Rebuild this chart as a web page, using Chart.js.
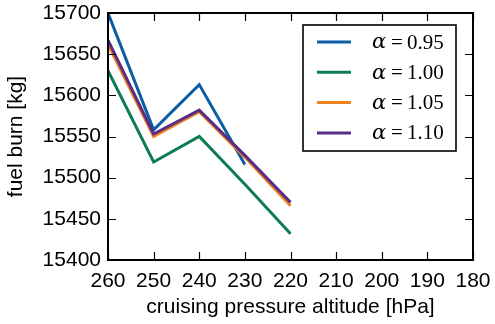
<!DOCTYPE html>
<html>
<head>
<meta charset="utf-8">
<script src="https://cdn.jsdelivr.net/npm/chart.js@4/dist/chart.umd.min.js"></script>
<style>
  html, body { margin: 0; padding: 0; background: #fff; }
  #wrap { width: 495px; height: 324px; }
</style>
</head>
<body>
<div id="wrap"><canvas id="c"></canvas></div>
<script>
/* fuel burn vs cruising pressure altitude */

const altitude = [260, 250, 240, 230, 220];
const alphaLabels = ['0.95', '1.00', '1.05', '1.10'];
const burn095 = [15700, 15558, 15613, 15516];
const burn100 = [15630, 15519, 15550, 15492, 15432];
const burn105 = [15662, 15550, 15580, 15525, 15466];
const burn110 = [15667, 15553, 15582, 15527, 15470];
const xTicks = [260, 250, 240, 230, 220, 210, 200, 190, 180];
const yTicks = [15400, 15450, 15500, 15550, 15600, 15650, 15700];

const COL = ['#0b5ea6', '#0b7d50', '#f0821f', '#592d86'];
const series = [burn095, burn100, burn105, burn110];

const TICK_FONT = { family: "'Liberation Sans', Arial, sans-serif", size: 21 };
const TITLE_FONT = { family: "'Liberation Sans', Arial, sans-serif", size: 21 };

const pts = vals => vals.map((v, i) => ({ x: altitude[i], y: v }));

// inward ticks on all four sides, black frame, latex-ish legend box
const frame = {
  id: 'frame',
  afterDatasetsDraw(chart) {
    const { ctx, chartArea: a, scales: { x, y } } = chart;
    ctx.save();
    ctx.strokeStyle = '#000';
    ctx.lineWidth = 1.2;
    ctx.beginPath();
    xTicks.forEach(t => {
      const px = Math.round(x.getPixelForValue(t)) + 0.5;
      ctx.moveTo(px, a.bottom); ctx.lineTo(px, a.bottom - 8);
      ctx.moveTo(px, a.top); ctx.lineTo(px, a.top + 8);
    });
    yTicks.forEach(t => {
      const py = Math.round(y.getPixelForValue(t)) + 0.5;
      ctx.moveTo(a.left, py); ctx.lineTo(a.left + 8, py);
      ctx.moveTo(a.right, py); ctx.lineTo(a.right - 8, py);
    });
    ctx.stroke();
    ctx.lineWidth = 2;
    ctx.strokeRect(a.left, a.top, a.right - a.left, a.bottom - a.top);

    // legend
    const bx = 303, by = 25, bw = 153, bh = 126;
    ctx.fillStyle = '#fff';
    ctx.fillRect(bx, by, bw, bh);
    ctx.lineWidth = 1.6;
    ctx.strokeRect(bx, by, bw, bh);
    chart.data.datasets.forEach((ds, i) => {
      const ry = 42 + i * 30.3;
      ctx.strokeStyle = ds.borderColor;
      ctx.lineWidth = 3;
      ctx.beginPath(); ctx.moveTo(317, ry); ctx.lineTo(351, ry); ctx.stroke();
      ctx.fillStyle = '#000';
      ctx.textBaseline = 'middle';
      ctx.font = "italic 21px 'DejaVu Serif', serif";
      ctx.fillText('\u03b1', 372, ry + 1);
      ctx.font = "21px 'Liberation Serif', serif";
      ctx.fillText('=', 391, ry + 1);
      ctx.fillText(alphaLabels[i], 407, ry + 1);
    });
    ctx.restore();
  }
};

new Chart(document.getElementById('c'), {
  type: 'line',
  data: {
    datasets: series.map((s, i) => ({
      label: '\u03b1=' + alphaLabels[i],
      data: pts(s),
      borderColor: COL[i],
      backgroundColor: COL[i],
      borderWidth: 3,
      pointRadius: 0,
      tension: 0,
      fill: false,
      order: 4 - i,
    })),
  },
  options: {
    responsive: true,
    maintainAspectRatio: false,
    animation: false,
    devicePixelRatio: 1,
    layout: { padding: { top: 13, right: 22, left: 0, bottom: 0 } },
    plugins: { legend: { display: false }, tooltip: { enabled: false } },
    scales: {
      x: {
        type: 'linear', reverse: true, min: 180, max: 260,
        afterBuildTicks: s => { s.ticks = xTicks.map(v => ({ value: v })); },
        afterFit: s => { s.height = 64; s.paddingLeft = 0; s.paddingRight = 0; },
        grid: { display: false, drawTicks: false },
        border: { display: false },
        ticks: { color: '#000', font: TICK_FONT, padding: 9, maxRotation: 0 },
        title: { display: true, text: 'cruising pressure altitude [hPa]', color: '#000', font: TITLE_FONT, padding: { top: 2 } },
      },
      y: {
        min: 15400, max: 15700,
        afterBuildTicks: s => { s.ticks = yTicks.map(v => ({ value: v })); },
        afterFit: s => { s.width = 108; s.paddingTop = 0; s.paddingBottom = 0; },
        grid: { display: false, drawTicks: false },
        border: { display: false },
        ticks: { color: '#000', font: TICK_FONT, padding: 7, callback: v => String(v) },
        title: { display: true, text: 'fuel burn [kg]', color: '#000', font: TITLE_FONT, padding: { bottom: 2 } },
      },
    },
  },
  plugins: [frame],
});
</script>
</body>
</html>
